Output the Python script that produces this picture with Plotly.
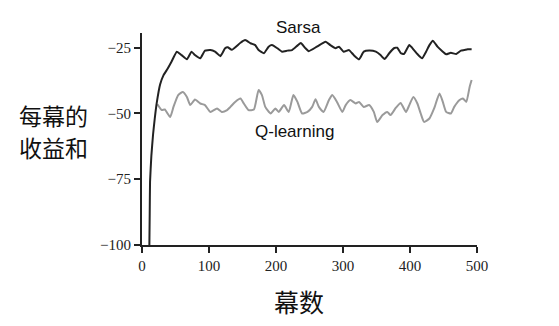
import plotly.graph_objects as go

sarsa_x = [11, 11.5, 12, 14, 16.5, 19, 22, 27, 32, 37, 44, 52, 59, 67, 74, 79, 87, 94, 102, 109, 117,
           124, 128, 134, 147, 154, 162, 169, 174, 182, 189, 194, 202, 209, 217, 224, 232, 237, 244,
           249, 261, 274, 281, 289, 294, 301, 309, 316, 324, 331, 339, 349, 356, 362, 369, 376, 381,
           386, 391, 399, 406, 411, 418, 424, 429, 434, 441, 449, 454, 461, 469, 476, 481, 486, 492]
sarsa_y = [-100, -88, -76, -66, -58, -52, -46, -39, -35.5, -33.5, -30.3, -26.5, -27.8, -29.4, -26.5,
           -27.8, -29, -26.1, -25.9, -26.5, -28.2, -25.2, -24.8, -25.8, -23.1, -22.1, -23.3, -24,
           -25.9, -27.1, -24.6, -24, -25.2, -26.5, -26.1, -25.9, -24.2, -23.2, -25.2, -26.3, -24.6,
           -22.7, -24, -25.2, -24.6, -26.5, -25.9, -27.8, -29.4, -26.5, -26.1, -26.5, -27.8, -29.3,
           -27.1, -25.2, -25.0, -27.0, -27.4, -24, -25.9, -27.4, -29, -26.5, -24, -22.3, -24.6,
           -26.5, -27.5, -26.9, -27.4, -26.1, -25.9, -25.6, -25.6]

q_x = [23, 29.5, 34, 42, 47, 54, 61, 67, 72, 79, 87, 94, 102, 112, 119, 127, 132, 139, 147, 152,
       159, 167, 174, 179, 184, 192, 199, 204, 212, 219, 226, 232, 239, 247, 254, 259, 264, 271,
       279, 284, 291, 299, 304, 311, 319, 324, 331, 339, 346, 351, 359, 366, 371, 379, 386, 394,
       399, 405, 411, 416, 421, 429, 436, 444, 449, 454, 461, 466, 474, 479, 484, 489, 492]
q_y = [-46.5, -48.7, -48.5, -51.3, -47.5, -43, -41.8, -43.7, -46.8, -44.7, -46.2, -46.8, -49.4,
       -48.1, -49.4, -48.7, -47.5, -45.6, -44.3, -46.2, -48.7, -48.5, -41.1, -43, -47.5, -50,
       -48.1, -49.4, -46.8, -49.4, -43, -45.6, -50, -49.4, -47.5, -44.6, -47.5, -49.4, -44.9,
       -43, -45.6, -49.4, -46.8, -44.9, -46.2, -45.6, -47.5, -46.8, -49.4, -53.2, -50.6, -49.4,
       -50.6, -47.8, -46, -49.4, -46.8, -43.7, -46.2, -50, -53.2, -51.9, -48.1, -42.4, -45.6,
       -49.4, -50, -47.5, -44.9, -44.3, -45.6, -39.9, -37.3]

x_ticks = [0, 100, 200, 300, 400, 500]
y_ticks = [-100, -75, -50, -25]

fig = go.Figure()
fig.add_trace(go.Scatter(x=q_x, y=q_y, mode="lines",
                         line=dict(color="#9a9a9a", width=2, shape="spline", smoothing=0.5),
                         hoverinfo="skip", showlegend=False))
fig.add_trace(go.Scatter(x=sarsa_x, y=sarsa_y, mode="lines",
                         line=dict(color="#222222", width=2, shape="spline", smoothing=0.4),
                         hoverinfo="skip", showlegend=False))

tickfont = dict(family="Liberation Serif", size=15, color="#222222")
sans = "Liberation Sans"
cjk = "Noto Sans CJK SC"
fig.update_layout(
    width=559, height=326,
    margin=dict(l=142, r=82, t=33, b=81),
    paper_bgcolor="white", plot_bgcolor="white",
    xaxis=dict(range=[0, 500], tickvals=x_ticks, ticks="outside", ticklen=6, tickwidth=1.5,
               tickcolor="#222222", showline=True, linecolor="#222222", linewidth=2,
               showgrid=False, zeroline=False, tickfont=tickfont, fixedrange=True),
    yaxis=dict(range=[-100, -19.4], tickvals=y_ticks, ticks="outside", ticklen=6, tickwidth=1.5,
               tickcolor="#222222", showline=True, linecolor="#222222", linewidth=2,
               showgrid=False, zeroline=False, tickfont=tickfont, fixedrange=True),
    annotations=[
        dict(text="Sarsa", x=233.5, y=1.025, xref="x", yref="paper", showarrow=False,
             yanchor="middle", font=dict(family=sans, size=17, color="#111111")),
        dict(text="Q-learning", x=227.5, y=-57, xref="x", yref="y", showarrow=False,
             yanchor="middle", font=dict(family=sans, size=17, color="#111111")),
        dict(text="每幕的", x=-0.264, y=0.614, xref="paper", yref="paper",
             showarrow=False, xanchor="center", yanchor="middle",
             font=dict(family=cjk, size=23, color="#111111")),
        dict(text="收益和", x=-0.264, y=0.463, xref="paper", yref="paper",
             showarrow=False, xanchor="center", yanchor="middle",
             font=dict(family=cjk, size=23, color="#111111")),
        dict(text="幕数", x=0.4676, y=-0.264, xref="paper", yref="paper",
             showarrow=False, xanchor="center", yanchor="middle",
             font=dict(family=cjk, size=25, color="#111111")),
    ],
)
fig.write_html("out.html")
